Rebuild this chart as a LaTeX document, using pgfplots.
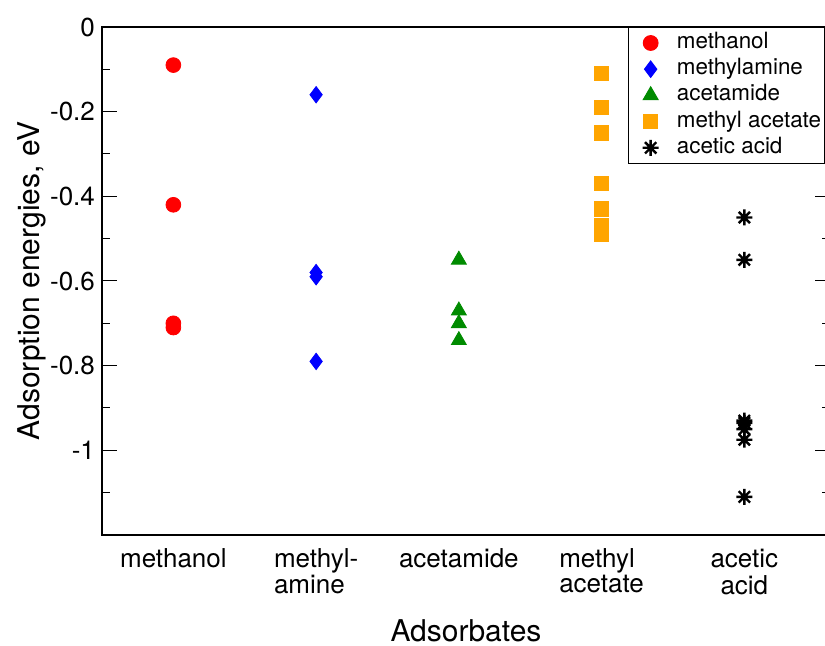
\documentclass[border=0pt]{standalone}
\usepackage{fontspec}
\setmainfont{TeX Gyre Heros}
\usepackage{pgfplots}
\pgfplotsset{compat=1.18}
\definecolor{xgreen}{RGB}{0,139,0}
\definecolor{xorange}{RGB}{255,165,0}
\pgfdeclareplotmark{ast8}{%
  \pgfpathmoveto{\pgfqpoint{0pt}{\pgfplotmarksize}}\pgfpathlineto{\pgfqpoint{0pt}{-\pgfplotmarksize}}%
  \pgfpathmoveto{\pgfqpoint{\pgfplotmarksize}{0pt}}\pgfpathlineto{\pgfqpoint{-\pgfplotmarksize}{0pt}}%
  \pgfpathmoveto{\pgfqpoint{0.7071\pgfplotmarksize}{0.7071\pgfplotmarksize}}\pgfpathlineto{\pgfqpoint{-0.7071\pgfplotmarksize}{-0.7071\pgfplotmarksize}}%
  \pgfpathmoveto{\pgfqpoint{-0.7071\pgfplotmarksize}{0.7071\pgfplotmarksize}}\pgfpathlineto{\pgfqpoint{0.7071\pgfplotmarksize}{-0.7071\pgfplotmarksize}}%
  \pgfusepathqstroke}
\begin{document}
\begin{tikzpicture}
\begin{axis}[
  scale only axis, width=364pt, height=254pt,
  xmin=0.5, xmax=5.6, ymin=-1.2, ymax=0,
  axis line style={black, line width=0.6pt},
  xtick={1,2,3,4,5},
  xticklabels={methanol,
    {\begin{tabular}[t]{@{}l@{}}methyl-\\amine\end{tabular}},
    acetamide,
    {\begin{tabular}[t]{@{}l@{}}methyl\\acetate\end{tabular}},
    {\begin{tabular}[t]{@{}c@{}}acetic\\acid\end{tabular}}},
  xtick style={draw=none},
  xticklabel style={anchor=base, yshift=-16.5pt, font=\fontsize{13}{12.5}\selectfont},
  ytick={0,-0.2,-0.4,-0.6,-0.8,-1},
  yticklabels={0,-0.2,-0.4,-0.6,-0.8,-1},
  minor ytick={-0.1,-0.3,-0.5,-0.7,-0.9,-1.1},
  yticklabel style={font=\fontsize{13}{13}\selectfont},
  ytick pos=both, tick align=inside,
  major tick length=7.5pt, minor tick length=4pt,
  ytick style={black, line width=0.5pt},
  xlabel={Adsorbates},
  xlabel style={at={(axis description cs:0.5,-0.2106)}, anchor=base, font=\fontsize{15}{15}\selectfont},
  ylabel={Adsorption energies, eV},
  ylabel style={at={(axis description cs:-0.0865,0.5)}, anchor=base, rotate=0, font=\fontsize{15}{15}\selectfont},
  legend style={at={(rel axis cs:0.7225,1)}, anchor=north west, draw=black, line width=0.5pt, fill=white,
    font=\fontsize{11.2}{13}\selectfont, inner xsep=1.5pt, inner ysep=2.5pt, row sep=2.6pt,
    nodes={inner sep=0pt, text height=8pt, text depth=2.5pt}, column sep=0pt},
  legend cell align=left,
  legend image code/.code={\path (0pt,0pt) (21.5pt,0pt); \draw[mark repeat=2,mark phase=2,#1] plot coordinates {(0pt,0pt)(9pt,0pt)(21.5pt,0pt)};},
]
\addplot[only marks, mark=*, mark size=3.7pt, color=red] coordinates {(1,-0.09)(1,-0.42)(1,-0.70)(1,-0.71)};
\addlegendentry{methanol}
\addplot[only marks, mark=diamond*, mark size=4.1pt, color=blue] coordinates {(2,-0.16)(2,-0.58)(2,-0.59)(2,-0.79)};
\addlegendentry{methylamine}
\addplot[only marks, mark=triangle*, mark size=4.3pt, color=xgreen] coordinates {(3,-0.55)(3,-0.67)(3,-0.70)(3,-0.74)};
\addlegendentry{acetamide}
\addplot[only marks, mark=square*, mark size=3.6pt, color=xorange] coordinates {(4,-0.11)(4,-0.19)(4,-0.25)(4,-0.37)(4,-0.43)(4,-0.47)(4,-0.49)};
\addlegendentry{methyl acetate\hspace{6pt}}
\addplot[only marks, mark=ast8, mark size=4pt, color=black, line width=1.2pt] coordinates {(5,-0.45)(5,-0.55)(5,-0.93)(5,-0.935)(5,-0.95)(5,-0.975)(5,-1.11)};
\addlegendentry{acetic acid}
\end{axis}
\pgfresetboundingbox
\useasboundingbox (-51pt,-55.5pt) rectangle (361.5pt,267.5pt);
\end{tikzpicture}
\end{document}
